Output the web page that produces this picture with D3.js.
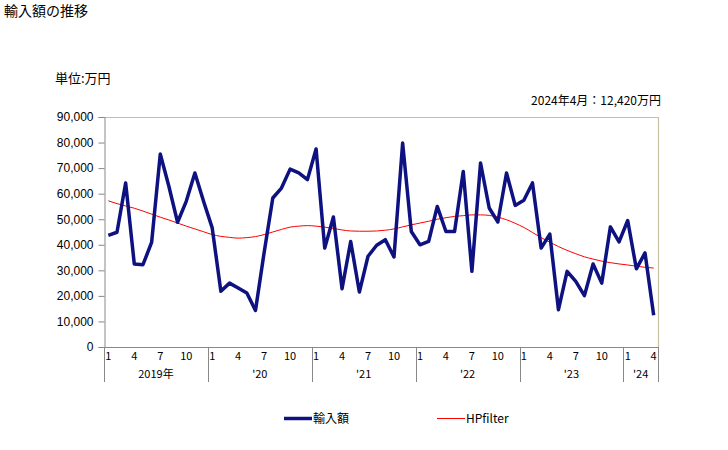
<!DOCTYPE html>
<html>
<head>
<meta charset="utf-8">
<title>輸入額の推移</title>
<style>
  body { margin: 0; background: #fff; }
  svg { font-family: "Liberation Sans", Arial, sans-serif; }
  .jp { font-family: "Noto Sans CJK JP", sans-serif; }
</style>
</head>
<body>
<div id="chart"></div>
<script src="https://d3js.org/d3.v7.min.js"></script>
<script>
// months 2019/1 .. 2024/4
var years = [2019, 2020, 2021, 2022, 2023, 2024];
var yearLabels = ["2019年", "'20", "'21", "'22", "'23", "'24"];
var monthTicks = [1, 4, 7, 10];

// 輸入額 (万円)
var imports = [
  43700, 44900, 64200, 32500, 32200, 40900, 75500, 62800, 48800, 57000, 68100, 57000,
  46600, 21800, 25000, 23100, 21100, 14300, 37000, 58300, 62200, 69600, 68100, 65500,
  77500, 38700, 50900, 22800, 41300, 21500, 35500, 39800, 42000, 35200, 79800, 45200,
  40000, 41300, 55000, 45200, 45200, 68700, 29600, 72000, 54400, 48900, 68100, 55400,
  57400, 64200, 38700, 44200, 14600, 29600, 25700, 20100, 32500, 25000, 47000, 41100,
  49500, 30600, 36800, 12420
];

// HPfilter
var hp = [
  57200, 56100, 55200, 54300, 53200, 52000, 50800, 49700, 48500, 47300, 46200, 45100,
  44000, 43300, 42900, 42600, 42800, 43200, 44000, 45000, 46000, 46900, 47300, 47500,
  47300, 46900, 46400, 45800, 45400, 45300, 45300, 45400, 45700, 46200, 47000, 47800,
  48500, 49200, 50000, 50600, 51100, 51400, 51700, 51700, 51500, 50800, 49800, 48400,
  46800, 44800, 42800, 41000, 39300, 37800, 36500, 35300, 34400, 33600, 33000, 32500,
  32100, 31600, 31200, 30900
];

var yTicks = [0, 10000, 20000, 30000, 40000, 50000, 60000, 70000, 80000, 90000];

var months = [];
years.forEach(function(yr) {
  for (var m = 1; m <= 12; m++) {
    if (yr === 2024 && m > 4) break;
    months.push({ year: yr, month: m });
  }
});

var width = 728, height = 450;
var pLeft = 104, pRight = 658, pTop = 117, pBottom = 347;

var svg = d3.select("#chart").append("svg")
  .attr("width", width)
  .attr("height", height);

var x = d3.scaleBand()
  .domain(d3.range(months.length))
  .range([pLeft, pRight]);

var y = d3.scaleLinear()
  .domain([0, 90000])
  .range([pBottom, pTop]);

// titles
svg.append("text").attr("class", "jp")
  .attr("x", 4).attr("y", 16)
  .style("font-size", "14px")
  .text("輸入額の推移");

svg.append("text").attr("class", "jp")
  .attr("x", 55).attr("y", 83)
  .style("font-size", "13px")
  .text("単位:万円");

svg.append("text").attr("class", "jp")
  .attr("x", 661).attr("y", 105)
  .attr("text-anchor", "end")
  .style("font-size", "12px")
  .text("2024年4月：12,420万円");

// plot frame (top/right)
svg.append("path")
  .attr("d", "M" + pLeft + "," + (pTop + 0.5) + "H" + (pRight + 0.5) + "V" + pBottom)
  .attr("fill", "none")
  .attr("stroke", "#c8bfa0")
  .attr("stroke-width", 1.2);

// y axis
var yAxis = svg.append("g")
  .attr("transform", "translate(" + (pLeft + 0.5) + ",0)")
  .call(d3.axisLeft(y).tickValues(yTicks).tickSize(6).tickPadding(5)
    .tickFormat(d3.format(",")));
yAxis.selectAll("path, line").attr("stroke", "#888");
yAxis.selectAll("text")
  .style("font-family", "Liberation Sans, Arial, sans-serif")
  .style("font-size", "12px")
  .attr("fill", "#000");

// x axis baseline
svg.append("line")
  .attr("x1", pLeft).attr("x2", pRight + 0.5)
  .attr("y1", pBottom + 0.5).attr("y2", pBottom + 0.5)
  .attr("stroke", "#888");

// year dividers
var yearStarts = [];
months.forEach(function(d, i) { if (d.month === 1) yearStarts.push(i); });
var dividers = yearStarts.map(function(i) { return x(i); }).concat([pRight]);

svg.selectAll(".div")
  .data(dividers)
  .enter().append("line")
  .attr("x1", function(d) { return Math.round(d) + 0.5; })
  .attr("x2", function(d) { return Math.round(d) + 0.5; })
  .attr("y1", pBottom).attr("y2", 382)
  .attr("stroke", "#888");

// month labels
svg.selectAll(".mlab")
  .data(months.map(function(d, i) { return { m: d.month, i: i }; })
    .filter(function(d) { return monthTicks.indexOf(d.m) >= 0; }))
  .enter().append("text")
  .attr("class", "jp")
  .attr("x", function(d) { return x(d.i) + x.bandwidth() / 2; })
  .attr("y", 360)
  .attr("text-anchor", "middle")
  .style("font-size", "11px")
  .text(function(d) { return d.m; });

// year labels
svg.selectAll(".ylab")
  .data(yearStarts)
  .enter().append("text")
  .attr("class", "jp")
  .attr("x", function(d, k) { return (dividers[k] + dividers[k + 1]) / 2; })
  .attr("y", 378)
  .attr("text-anchor", "middle")
  .style("font-size", "11px")
  .text(function(d, k) { return yearLabels[k]; });

var cx = function(d, i) { return x(i) + x.bandwidth() / 2; };

svg.append("path")
  .datum(hp)
  .attr("fill", "none")
  .attr("stroke", "#ff0000")
  .attr("stroke-width", 1)
  .attr("d", d3.line().x(cx).y(function(d) { return y(d); }).curve(d3.curveMonotoneX));

svg.append("path")
  .datum(imports)
  .attr("fill", "none")
  .attr("stroke", "#0d1280")
  .attr("stroke-width", 3.5)
  .attr("stroke-linejoin", "round")
  .attr("d", d3.line().x(cx).y(function(d) { return y(d); }));

// legend
var legend = [
  { name: "輸入額", color: "#0d1280", w: 3.5, x: 284 },
  { name: "HPfilter", color: "#ff0000", w: 1, x: 437 }
];
legend.forEach(function(l) {
  svg.append("line")
    .attr("x1", l.x).attr("x2", l.x + 28)
    .attr("y1", 418.5).attr("y2", 418.5)
    .attr("stroke", l.color).attr("stroke-width", l.w);
  svg.append("text").attr("class", "jp")
    .attr("x", l.x + 29).attr("y", 423)
    .style("font-size", "12px")
    .text(l.name);
});
</script>
</body>
</html>
